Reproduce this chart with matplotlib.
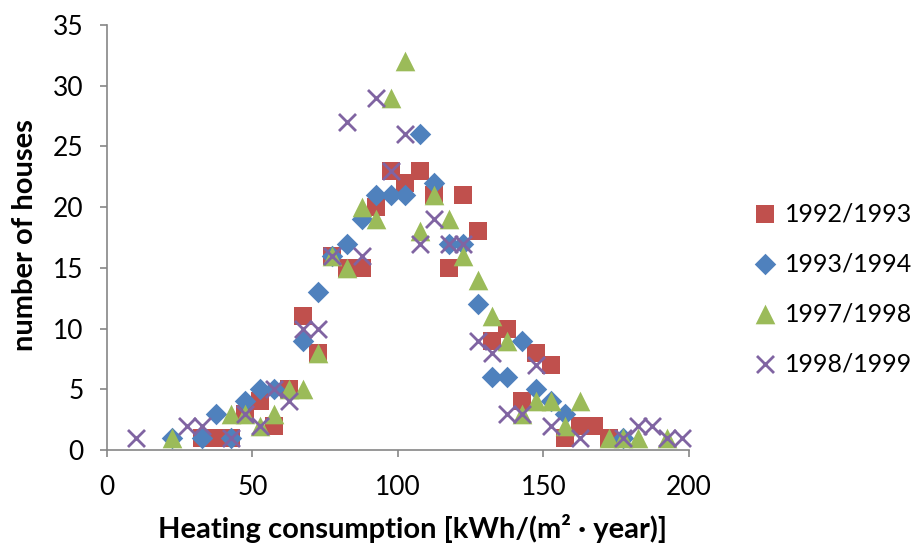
import matplotlib
matplotlib.use("Agg")
import matplotlib.pyplot as plt

plt.rcParams['font.family'] = ['Lato', 'DejaVu Sans']

# 1992/1993
x_9293 = [32.5, 37.5, 42.5, 47.5, 52.5, 57.5, 62.5, 67.5, 72.5, 77.5, 82.5, 87.5, 92.5, 97.5,
          102.5, 107.5, 112.5, 117.5, 122.5, 127.5, 132.5, 137.5, 142.5, 147.5, 152.5, 157.5,
          162.5, 167.5, 172.5]
y_9293 = [1, 1, 1, 3, 4, 2, 5, 11, 8, 16, 15, 15, 20, 23,
          22, 23, 21, 15, 21, 18, 9, 10, 4, 8, 7, 1,
          2, 2, 1]

# 1993/1994
x_9394 = [22.5, 32.5, 37.5, 42.5, 47.5, 52.5, 57.5, 67.5, 72.5, 77.5, 82.5, 87.5, 92.5, 97.5,
          102.5, 107.5, 112.5, 117.5, 122.5, 127.5, 132.5, 137.5, 142.5, 147.5, 152.5, 157.5,
          177.5]
y_9394 = [1, 1, 3, 1, 4, 5, 5, 9, 13, 16, 17, 19, 21, 21,
          21, 26, 22, 17, 17, 12, 6, 6, 9, 5, 4, 3,
          1]

# 1997/1998
x_9798 = [22.5, 42.5, 47.5, 52.5, 57.5, 62.5, 67.5, 72.5, 77.5, 82.5, 87.5, 92.5, 97.5, 102.5,
          107.5, 112.5, 117.5, 122.5, 127.5, 132.5, 137.5, 142.5, 147.5, 152.5, 157.5, 162.5,
          172.5, 177.5, 182.5, 192.5]
y_9798 = [1, 3, 3, 2, 3, 5, 5, 8, 16, 15, 20, 19, 29, 32,
          18, 21, 19, 16, 14, 11, 9, 3, 4, 4, 2, 4,
          1, 1, 1, 1]

# 1998/1999
x_9899 = [10, 27.5, 32.5, 42.5, 47.5, 52.5, 57.5, 62.5, 67.5, 72.5, 77.5, 82.5, 87.5, 92.5,
          97.5, 102.5, 107.5, 112.5, 117.5, 122.5, 127.5, 132.5, 137.5, 142.5, 147.5, 152.5,
          162.5, 177.5, 182.5, 187.5, 192.5, 197.5]
y_9899 = [1, 2, 2, 1, 3, 2, 5, 4, 10, 10, 16, 27, 16, 29,
          23, 26, 17, 19, 17, 17, 9, 8, 3, 3, 7, 2,
          1, 1, 2, 2, 1, 1]

labels = ['1992/1993', '1993/1994', '1997/1998', '1998/1999']
x_ticks = [0, 50, 100, 150, 200]
y_ticks = [0, 5, 10, 15, 20, 25, 30, 35]

fig = plt.figure(figsize=(9.12, 5.52), dpi=100)
ax = fig.add_axes([0.1173, 0.1848, 0.6380, 0.7700])

ax.scatter(x_9293, y_9293, marker='s', s=150, color='#C0504D', linewidths=0, label=labels[0], zorder=3, clip_on=False)
ax.scatter(x_9394, y_9394, marker='D', s=120, color='#4F81BD', linewidths=0, label=labels[1], zorder=4, clip_on=False)
ax.scatter(x_9798, y_9798, marker='^', s=200, color='#9BBB59', linewidths=0, label=labels[2], zorder=5, clip_on=False)
ax.scatter(x_9899, y_9899, marker='x', s=150, color='#8064A2', linewidths=2, label=labels[3], zorder=6, clip_on=False)

ax.set_xlim(0, 200)
ax.set_ylim(0, 35)
ax.set_xticks(x_ticks)
ax.set_yticks(y_ticks)

for side in ['top', 'right']:
    ax.spines[side].set_visible(False)
for side in ['left', 'bottom']:
    ax.spines[side].set_color('#868686')
    ax.spines[side].set_linewidth(1.2)
ax.tick_params(axis='both', direction='out', length=5, width=1.2, color='#868686',
               labelsize=19, labelcolor='black')
ax.tick_params(axis='x', pad=13)
ax.tick_params(axis='y', pad=12)

ax.set_xlabel('Heating consumption [kWh/(m² · year)]', fontsize=21, fontweight='bold')
ax.xaxis.label.set_va('center')
ax.xaxis.set_label_coords((412 - 107) / 581, (450 - 528) / 424)
ax.set_ylabel('number of houses', fontsize=21, fontweight='bold')
ax.yaxis.label.set_va('center')
ax.yaxis.set_label_coords((25 - 107) / 581, (450 - 236) / 424)

leg = ax.legend(loc='center left', bbox_to_anchor=(740 / 912, 1 - 288.5 / 552),
                bbox_transform=fig.transFigure, frameon=False, fontsize=18,
                labelspacing=1.08, handlelength=1.2, handletextpad=0.2,
                borderaxespad=0, scatterpoints=1)

fig.savefig('out.png', dpi=100)
